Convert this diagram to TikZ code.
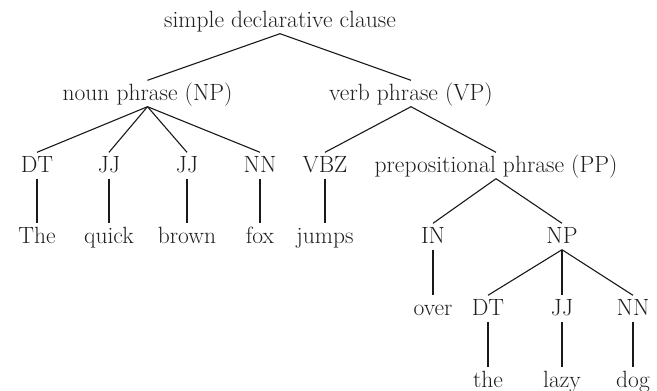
\documentclass[tikz,border=0pt]{standalone}
\begin{document}
\begin{tikzpicture}[x=1pt,y=-1pt,
  lbl/.style={anchor=base, font=\fontsize{23.5}{26}\selectfont, text=black!88,
              text height=16pt, text depth=3pt, inner xsep=2pt, inner ysep=3.5pt},
  edge/.style={draw=black!90, line width=1.1pt}]
\useasboundingbox (0,0) rectangle (657,391);

% level 1
\node[lbl] (s)   at (280,27) {simple declarative clause};
% level 2
\node[lbl] (np)  at (147.5,100) {noun phrase (NP)};
\node[lbl] (vp)  at (411,100) {verb phrase (VP)};
% level 3
\node[lbl] (dt1) at (37,172)  {DT};
\node[lbl] (jj1) at (109,172) {JJ};
\node[lbl] (jj2) at (187,172) {JJ};
\node[lbl] (nn1) at (260,172) {NN};
\node[lbl] (vbz) at (325,172) {VBZ};
\node[lbl] (pp)  at (496,172) {prepositional phrase (PP)};
% level 4
\node[lbl] (w1)  at (37,243)  {The};
\node[lbl] (w2)  at (109,243) {quick};
\node[lbl] (w3)  at (187,243) {brown};
\node[lbl] (w4)  at (260,243) {fox};
\node[lbl] (w5)  at (325,243) {jumps};
\node[lbl] (in)  at (433,243) {IN};
\node[lbl] (np2) at (562,243) {NP};
% level 5
\node[lbl] (w6)  at (433,315) {over};
\node[lbl] (dt2) at (488,315) {DT};
\node[lbl] (jj3) at (562,315) {JJ};
\node[lbl] (nn2) at (633,315) {NN};
% level 6
\node[lbl] (w7)  at (488,387) {the};
\node[lbl] (w8)  at (562,387) {lazy};
\node[lbl] (w9)  at (633,387) {dog};

% branches
\draw[edge] (s.south) -- (np.north);
\draw[edge] (s.south) -- (vp.north);
\foreach \c in {dt1,jj1,jj2,nn1} \draw[edge] (np.south) -- (\c.north);
\draw[edge] (vp.south) -- (vbz.north);
\draw[edge] (vp.south) -- (pp.north);
\draw[edge] (dt1.south) -- (w1.north);
\draw[edge] (jj1.south) -- (w2.north);
\draw[edge] (jj2.south) -- (w3.north);
\draw[edge] (nn1.south) -- (w4.north);
\draw[edge] (vbz.south) -- (w5.north);
\draw[edge] (pp.south) -- (in.north);
\draw[edge] (pp.south) -- (np2.north);
\draw[edge] (in.south) -- (w6.north);
\foreach \c in {dt2,jj3,nn2} \draw[edge] (np2.south) -- (\c.north);
\draw[edge] (dt2.south) -- (w7.north);
\draw[edge] (jj3.south) -- (w8.north);
\draw[edge] (nn2.south) -- (w9.north);
\end{tikzpicture}
\end{document}
